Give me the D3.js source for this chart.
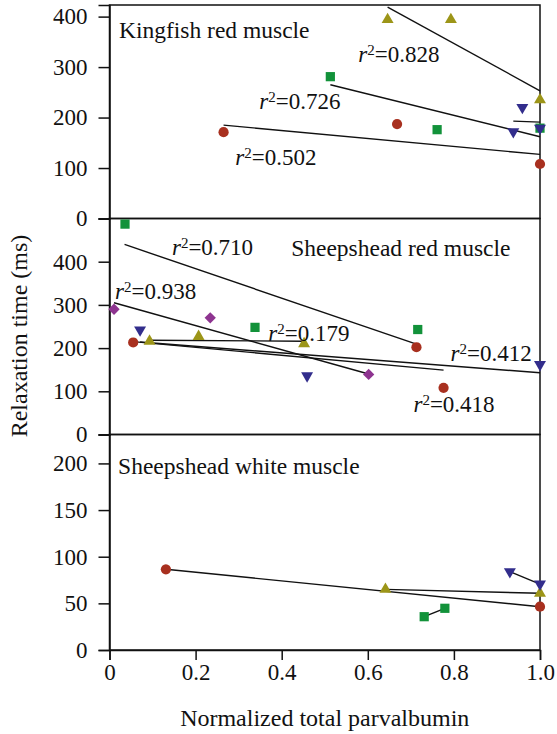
<!DOCTYPE html>
<html>
<head>
<meta charset="utf-8">
<script src="https://cdn.jsdelivr.net/npm/d3@7"></script>
<style>
  html, body { margin: 0; padding: 0; background: #fff; }
  svg text { font-family: "Liberation Serif", "Times New Roman", serif; fill: #111; }
</style>
</head>
<body>
<svg id="chart" width="557" height="734"></svg>
<script>
// ---------------- data ----------------
const xTickValues = [0, 0.2, 0.4, 0.6, 0.8, 1.0];
const panelTitles = ["Kingfish red muscle", "Sheepshead red muscle", "Sheepshead white muscle"];
const panelMax = [423, 500, 231];
const panelTicks = [[0, 100, 200, 300, 400], [0, 100, 200, 300, 400], [0, 50, 100, 150, 200]];
const xLabel = "Normalized total parvalbumin";
const yLabel = "Relaxation time (ms)";

// Kingfish red muscle
const kfRed    = [[0.265, 171], [0.668, 187], [1.0, 108]];
const kfRedFit = [[0.265, 185], [1.0, 127]];
const kfOlive    = [[0.646, 394], [0.793, 394], [1.0, 235]];
const kfOliveFit = [[0.646, 419], [1.0, 253]];
const kfGreen    = [[0.513, 281], [0.761, 176], [1.0, 179]];
const kfGreenFit = [[0.513, 265], [1.0, 162]];
const kfNavy    = [[0.959, 220], [0.938, 172], [1.0, 179]];
const kfNavyFit = [[0.938, 193], [1.0, 191]];
const kfR2 = [["0.828", 0.578, 311], ["0.726", 0.348, 216], ["0.502", 0.292, 106]];

// Sheepshead red muscle
const srGreen    = [[0.036, 487], [0.338, 248], [0.716, 243]];
const srGreenFit = [[0.035, 440], [0.713, 209]];
const srRed    = [[0.055, 213], [0.713, 202], [0.776, 108]];
const srRedFit = [[0.055, 215], [0.776, 149]];
const srNavy    = [[0.071, 242], [0.459, 136], [1.0, 162]];
const srNavyFit = [[0.071, 214], [1.0, 143]];
const srOlive    = [[0.093, 216], [0.207, 227], [0.452, 210]];
const srOliveFit = [[0.093, 218], [0.452, 216]];
const srPurple    = [[0.0105, 290], [0.234, 270], [0.602, 139]];
const srPurpleFit = [[0.0105, 305], [0.602, 140]];
const srR2 = [["0.710", 0.145, 415], ["0.938", 0.0127, 313], ["0.179", 0.369, 217], ["0.412", 0.792, 171], ["0.418", 0.706, 53]];

// Sheepshead white muscle
const swRed   = [[0.131, 86.5], [1.0, 46.4]];
const swOlive = [[0.641, 65], [1.0, 60.8]];
const swGreen = [[0.731, 35.7], [0.779, 44.7]];
const swNavy  = [[0.930, 84], [1.0, 70.7]];

// ---------------- styling ----------------
const colors = { red: "#a8301f", olive: "#9c9518", green: "#12923a", navy: "#322d8c", purple: "#8e3490" };
const left = 109.5, right = 540;
const panelTops = [5, 218.5, 434.5];
const panelBottoms = [218.5, 434.5, 650];
const fontSize = 23;

const svg = d3.select("#chart");
const x = d3.scaleLinear().domain([0, 1]).range([left, right]);

const symbolFor = {
  circle:  { type: d3.symbolCircle, size: 82, rot: 0 },
  square:  { type: d3.symbolSquare, size: 85, rot: 0 },
  up:      { type: d3.symbolTriangle, size: 62, rot: 0 },
  down:    { type: d3.symbolTriangle, size: 62, rot: 180 },
  diamond: { type: d3.symbolSquare, size: 64, rot: 45 }
};

const panels = [
  {
    series: [
      { pts: kfRed, fit: kfRedFit, color: colors.red, sym: "circle" },
      { pts: kfOlive, fit: kfOliveFit, color: colors.olive, sym: "up" },
      { pts: kfGreen, fit: kfGreenFit, color: colors.green, sym: "square" },
      { pts: kfNavy, fit: kfNavyFit, color: colors.navy, sym: "down" }
    ],
    r2: kfR2, titleX: 0.022, titleY: 357
  },
  {
    series: [
      { pts: srGreen, fit: srGreenFit, color: colors.green, sym: "square" },
      { pts: srRed, fit: srRedFit, color: colors.red, sym: "circle" },
      { pts: srNavy, fit: srNavyFit, color: colors.navy, sym: "down" },
      { pts: srOlive, fit: srOliveFit, color: colors.olive, sym: "up" },
      { pts: srPurple, fit: srPurpleFit, color: colors.purple, sym: "diamond" }
    ],
    r2: srR2, titleX: 0.422, titleY: 414
  },
  {
    series: [
      { pts: swRed, fit: swRed, color: colors.red, sym: "circle" },
      { pts: swOlive, fit: swOlive, color: colors.olive, sym: "up" },
      { pts: swGreen, fit: swGreen, color: colors.green, sym: "square" },
      { pts: swNavy, fit: swNavy, color: colors.navy, sym: "down" }
    ],
    r2: [], titleX: 0.02, titleY: 189
  }
];

panels.forEach((p, i) => {
  const y = d3.scaleLinear().domain([0, panelMax[i]]).range([panelBottoms[i], panelTops[i]]);
  const g = svg.append("g");

  // frame
  g.append("rect")
    .attr("x", left).attr("y", panelTops[i])
    .attr("width", right - left).attr("height", panelBottoms[i] - panelTops[i])
    .attr("fill", "none").attr("stroke", "#111").attr("stroke-width", 1.5);

  // y axis
  const ax = g.append("g").attr("transform", `translate(${left},0)`)
    .call(d3.axisLeft(y).tickValues(panelTicks[i]).tickSize(11).tickPadding(11).tickFormat(d3.format("d")));
  ax.select(".domain").attr("stroke", "#111").attr("stroke-width", 1.5);
  ax.selectAll(".tick line").attr("stroke", "#111").attr("stroke-width", 1.5);
  ax.selectAll(".tick text").attr("font-size", fontSize).attr("font-family", "Liberation Serif, serif").attr("fill", "#111");

  // fit lines
  const line = d3.line().x(d => x(d[0])).y(d => y(d[1]));
  p.series.forEach(s => {
    g.append("path").datum(s.fit).attr("d", line)
      .attr("fill", "none").attr("stroke", "#111").attr("stroke-width", 1.4);
  });

  // markers
  p.series.forEach(s => {
    const sd = symbolFor[s.sym];
    g.selectAll(null).data(s.pts).enter().append("path")
      .attr("d", d3.symbol().type(sd.type).size(sd.size)())
      .attr("transform", d => `translate(${x(d[0])},${y(d[1])}) rotate(${sd.rot})`)
      .attr("fill", s.color);
  });

  // r^2 labels
  p.r2.forEach(r => {
    const t = g.append("text").attr("x", x(r[1])).attr("y", y(r[2])).attr("font-size", fontSize);
    t.append("tspan").attr("font-style", "italic").text("r");
    t.append("tspan").attr("font-size", 15).attr("dy", -7).text("2");
    t.append("tspan").attr("dy", 7).text("=" + r[0]);
  });

  // panel title
  g.append("text").attr("x", x(p.titleX)).attr("y", y(p.titleY))
    .attr("font-size", 23.5).text(panelTitles[i]);
});

// x axis
const xa = svg.append("g").attr("transform", `translate(0,${panelBottoms[2]})`)
  .call(d3.axisBottom(x).tickValues(xTickValues).tickSize(10).tickPadding(4)
    .tickFormat(d => d === 0 ? "0" : d3.format(".1f")(d)));
xa.select(".domain").attr("stroke", "#111").attr("stroke-width", 1.5);
xa.selectAll(".tick line").attr("stroke", "#111").attr("stroke-width", 1.5);
xa.selectAll(".tick text").attr("font-size", fontSize).attr("font-family", "Liberation Serif, serif").attr("fill", "#111");

// axis titles
svg.append("text").attr("x", (left + right) / 2).attr("y", 726)
  .attr("text-anchor", "middle").attr("font-size", 24).text(xLabel);
svg.append("text").attr("transform", "translate(26.5,336) rotate(-90)")
  .attr("text-anchor", "middle").attr("font-size", 24).text(yLabel);
</script>
</body>
</html>
